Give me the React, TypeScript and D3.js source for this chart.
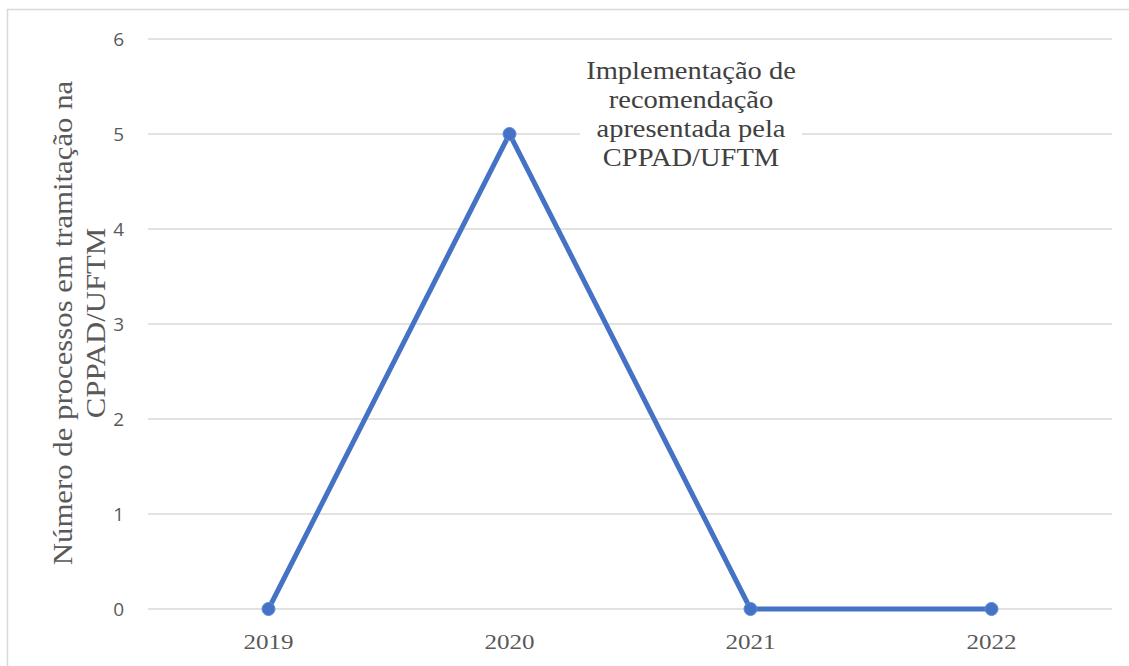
import React from "react";
import * as d3 from "d3";

const years = ["2019", "2020", "2021", "2022"];
const processos = [0, 5, 0, 0];
const yTicks = [0, 1, 2, 3, 4, 5, 6];
const yTitleLines = ["Número de processos em tramitação na", "CPPAD/UFTM"];
const annotationLines = ["Implementação de", "recomendação", "apresentada pela", "CPPAD/UFTM"];

export default function App() {
  const W = 1129, H = 666;
  const x = d3.scaleBand<string>().domain(years).range([148, 1112]);
  const y = d3.scaleLinear().domain([0, 6]).range([609, 39]);
  const cx = (d: string) => (x(d) as number) + x.bandwidth() / 2;
  const line = d3.line<number>().x((_, i) => cx(years[i])).y((d) => y(d));
  const serif = "Liberation Serif, Times New Roman, serif";
  const sans = "Open Sans, Liberation Sans, sans-serif";
  const sx = 1.14;
  return (
    <svg width={W} height={H} style={{ position: "absolute", left: 0, top: 0, background: "#fff" }}>
      <rect x={7.5} y={9.5} width={1140} height={700} fill="#fff" stroke="#d9d9d9" strokeWidth={1.5} />
      {yTicks.map((t) => (
        <g key={t}>
          <line x1={148} x2={1112} y1={y(t)} y2={y(t)} stroke="#d9d9d9" strokeWidth={1.5} />
          <text x={124} y={y(t)} dy="0.35em" textAnchor="end" fontFamily={sans} fontSize={19} fill="#595959">{t}</text>
        </g>
      ))}
      {years.map((yr) => (
        <g key={yr} transform={`translate(${cx(yr)},641) scale(${sx},1)`}>
          <text x={0} y={0} dy="0.35em" textAnchor="middle" fontFamily={serif} fontSize={22} fill="#595959">{yr}</text>
        </g>
      ))}
      <g transform={`translate(0,323) rotate(-90) scale(${sx},1)`}>
        {yTitleLines.map((l, i) => (
          <text key={i} x={0} y={72 + i * 33} textAnchor="middle" fontFamily={serif} fontSize={27} fill="#595959">{l}</text>
        ))}
      </g>
      <path d={line(processos) || ""} fill="none" stroke="#4472C4" strokeWidth={5} strokeLinejoin="round" />
      {processos.map((v, i) => (
        <circle key={i} cx={cx(years[i])} cy={y(v)} r={6.5} fill="#4472C4" stroke="#5b8bd6" strokeWidth={1} />
      ))}
      <rect x={580} y={52} width={222} height={122} fill="#fff" />
      <g transform={`translate(691,0) scale(${sx},1)`}>
        {annotationLines.map((l, i) => (
          <text key={i} x={0} y={70 + i * 29} dy="0.35em" textAnchor="middle" fontFamily={serif} fontSize={25} fill="#404040">{l}</text>
        ))}
      </g>
    </svg>
  );
}
